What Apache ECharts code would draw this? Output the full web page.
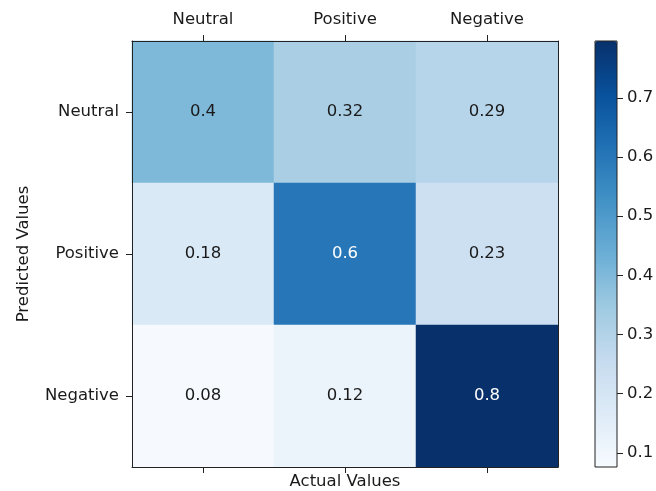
<!DOCTYPE html>
<html>
<head>
<meta charset="utf-8">
<script src="https://cdn.jsdelivr.net/npm/echarts@6/dist/echarts.min.js"></script>
<style>
html,body{margin:0;padding:0;background:#fff;}
#chart{width:656px;height:491px;}
</style>
</head>
<body>
<div id="chart"></div>
<script>
// ---- data ----
const actualLabels = ['Neutral', 'Positive', 'Negative'];
const predictedLabels = ['Neutral', 'Positive', 'Negative'];
const rowNeutral = [0.4, 0.32, 0.29];
const rowPositive = [0.18, 0.6, 0.23];
const rowNegative = [0.08, 0.12, 0.8];
const colorbarTicks = [0.1, 0.2, 0.3, 0.4, 0.5, 0.6, 0.7];
const colorMin = 0.076;
const colorMax = 0.796;

// ---- build ----
const rows = [rowNeutral, rowPositive, rowNegative];
const threshold = (colorMin + colorMax) / 2;
const heatData = [];
rows.forEach((row, yi) => {
  row.forEach((v, xi) => {
    heatData.push({
      value: [xi, yi, v],
      label: { color: v > threshold ? '#ffffff' : '#1a1a1a' }
    });
  });
});

const blues = ['#f7fbff', '#deebf7', '#c6dbef', '#9ecae1', '#6baed6', '#4292c6', '#2171b5', '#08519c', '#08306b'];
const FONT = 'DejaVu Sans';
const FS = 16.5;
const TXT = '#1a1a1a';

const chart = echarts.init(document.getElementById('chart'), null, { renderer: 'canvas' });
chart.setOption({
  backgroundColor: '#ffffff',
  animation: false,
  textStyle: { fontFamily: FONT },
  grid: [
    { left: 132, top: 41, width: 426, height: 426, containLabel: false, outerBoundsMode: 'none' },
    { left: 595, top: 41, width: 22, height: 426, containLabel: false, outerBoundsMode: 'none', show: true,
      borderColor: '#222', borderWidth: 1, backgroundColor: 'transparent', z: 10 }
  ],
  visualMap: {
    type: 'continuous',
    seriesIndex: 0,
    min: colorMin,
    max: colorMax,
    calculable: false,
    hoverLink: false,
    showLabel: false,
    text: null,
    left: 595,
    top: 41,
    padding: 0,
    itemWidth: 22,
    itemHeight: 426,
    inRange: { color: blues }
  },
  xAxis: [
    {
      type: 'category', gridIndex: 0, data: actualLabels, position: 'top', z: 10,
      axisLine: { show: true, lineStyle: { color: '#222', width: 1 } },
      axisTick: { show: true, alignWithLabel: true, length: 6, lineStyle: { color: '#222' } },
      axisLabel: { show: true, color: TXT, fontSize: FS, fontFamily: FONT, margin: 13 },
      splitLine: { show: false }
    },
    {
      type: 'category', gridIndex: 0, data: actualLabels, position: 'bottom', z: 10,
      name: 'Actual Values', nameLocation: 'middle', nameGap: 6,
      nameTextStyle: { color: TXT, fontSize: FS, fontFamily: FONT },
      axisLine: { show: true, lineStyle: { color: '#222', width: 1 } },
      axisTick: { show: true, alignWithLabel: true, length: 6, lineStyle: { color: '#222' } },
      axisLabel: { show: false },
      splitLine: { show: false }
    },
    {
      type: 'category', gridIndex: 1, data: ['c'], show: false
    }
  ],
  yAxis: [
    {
      type: 'category', gridIndex: 0, data: predictedLabels, inverse: true, position: 'left', z: 10,
      name: 'Predicted Values', nameLocation: 'middle', nameGap: 100, nameRotate: 90,
      nameTextStyle: { color: TXT, fontSize: FS, fontFamily: FONT },
      axisLine: { show: true, lineStyle: { color: '#222', width: 1 } },
      axisTick: { show: true, alignWithLabel: true, length: 6, lineStyle: { color: '#222' } },
      axisLabel: { show: true, color: TXT, fontSize: FS, fontFamily: FONT, margin: 13 },
      splitLine: { show: false }
    },
    {
      type: 'category', gridIndex: 0, data: predictedLabels, inverse: true, position: 'right', z: 10,
      axisLine: { show: true, lineStyle: { color: '#222', width: 1 } },
      axisTick: { show: false }, axisLabel: { show: false }, splitLine: { show: false }
    },
    {
      type: 'value', gridIndex: 1, position: 'right', min: colorMin, max: colorMax, z: 11,
      axisLine: { show: false },
      axisTick: { show: true, length: 6, customValues: colorbarTicks, lineStyle: { color: '#222' } },
      axisLabel: { show: true, customValues: colorbarTicks, color: TXT, fontSize: FS, fontFamily: FONT, margin: 10,
        formatter: v => String(Math.round(v * 10) / 10) },
      splitLine: { show: false }
    }
  ],
  series: [
    {
      type: 'heatmap',
      xAxisIndex: 0,
      yAxisIndex: 0,
      data: heatData,
      label: {
        show: true,
        fontSize: FS,
        fontFamily: FONT,
        formatter: p => String(p.value[2])
      },
      itemStyle: { borderWidth: 0 },
      emphasis: { disabled: true }
    }
  ]
});
</script>
</body>
</html>
